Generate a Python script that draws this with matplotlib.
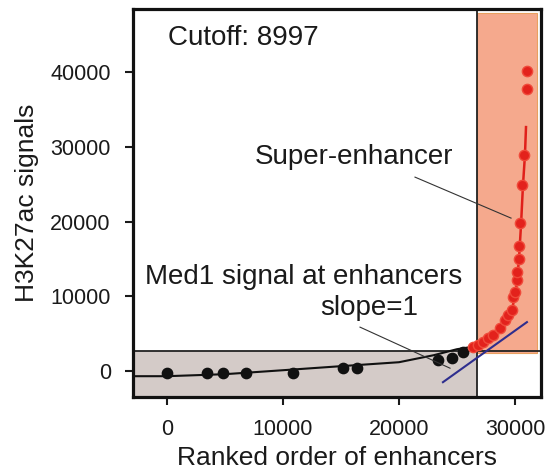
import matplotlib
matplotlib.use("Agg")
import matplotlib.pyplot as plt
from matplotlib.patches import Rectangle

plt.rcParams["font.family"] = ["Liberation Sans", "DejaVu Sans"]

# 普通增强子（黑点）
black_x = [0, 3450, 4830, 6810, 10860, 15170, 16380, 23360, 24570, 25520]
black_y = [-270, -270, -270, -270, -270, 400, 400, 1470, 1740, 2540]
black_line_x = [-2930, 0, 5000, 10000, 15000, 20000, 23000, 25000, 26500]
black_line_y = [-670, -670, -400, 130, 670, 1200, 2140, 2940, 3300]

# 超级增强子（红点）
red_x = [26380, 26810, 27240, 27670, 28100, 28710, 29140, 29400, 29740, 29830,
         30000, 30170, 30170, 30340, 30340, 30430, 30600, 30780, 31030, 31030]
red_y = [3210, 3480, 3880, 4410, 4820, 5750, 6820, 7490, 8160, 9900,
         10570, 12170, 13240, 14980, 16720, 19800, 24880, 28900, 37730, 40130]
red_line_x = [26380, 27410, 28280, 29140, 29740, 30090, 30340, 30520, 30690, 30860, 30950]
red_line_y = [2940, 3750, 4680, 6290, 8160, 10840, 14850, 19530, 24880, 28900, 32640]

# slope=1 切线
slope_x = [23790, 31030]
slope_y = [-1470, 6560]

cutoff_x = 26720
cutoff_y = 2680
xlim = (-2930, 32240)
ylim = (-3480, 48430)

fig = plt.figure(figsize=(5.52, 4.74), dpi=100)
ax = fig.add_axes([0.241, 0.162, 0.739, 0.819])
ax.set_xlim(*xlim)
ax.set_ylim(*ylim)

# 背景区域
ax.add_patch(Rectangle((xlim[0], ylim[0]), cutoff_x - xlim[0], cutoff_y - ylim[0],
                       facecolor="#d4cbc8", edgecolor="none", zorder=0))
ax.add_patch(Rectangle((cutoff_x, cutoff_y - 250), 31900 - cutoff_x, 47890 - cutoff_y + 250,
                       facecolor="#f5a98d", edgecolor="#e8a060", linewidth=0.8, zorder=0))
ax.axvline(cutoff_x, color="#222222", linewidth=1.3, zorder=1)
ax.axhline(cutoff_y, color="#222222", linewidth=1.3, zorder=1)

ax.plot(black_line_x, black_line_y, color="#111111", linewidth=1.5, zorder=2)
ax.scatter(black_x, black_y, s=55, color="#111111", zorder=3)
ax.plot(red_line_x, red_line_y, color="#e0201a", linewidth=1.8, zorder=2)
ax.scatter(red_x, red_y, s=55, color="#e3221c", edgecolor="#f04a3a", linewidth=1, zorder=3)
ax.plot(slope_x, slope_y, color="#2e2e8e", linewidth=1.5, zorder=4)

# 注释
ax.plot([21380, 29660], [25950, 20470], color="#333333", linewidth=0.8, zorder=4)
ax.plot([16640, 24400], [5890, 400], color="#333333", linewidth=0.8, zorder=4)
tc = "#1a1a1a"
ax.text(90, 44550, "Cutoff: 8997", fontsize=20, color=tc, ha="left", va="center")
ax.text(7590, 28630, "Super-enhancer", fontsize=20, color=tc, ha="left", va="center")
ax.text(-1900, 12580, "Med1 signal at enhancers", fontsize=20, color=tc, ha="left", va="center")
ax.text(13190, 8430, "slope=1", fontsize=20, color=tc, ha="left", va="center")

ax.set_xticks([0, 10000, 20000, 30000])
ax.set_yticks([0, 10000, 20000, 30000, 40000])
ax.tick_params(labelsize=15.5, length=6, width=1.5, colors="#1a1a1a", pad=10)
for s in ax.spines.values():
    s.set_linewidth(2.3)
    s.set_color("#111111")
ax.set_xlabel("Ranked order of enhancers", fontsize=19, color=tc, labelpad=4)
ax.set_ylabel("H3K27ac signals", fontsize=19, color=tc, labelpad=8)

fig.savefig("out.png", dpi=100)
